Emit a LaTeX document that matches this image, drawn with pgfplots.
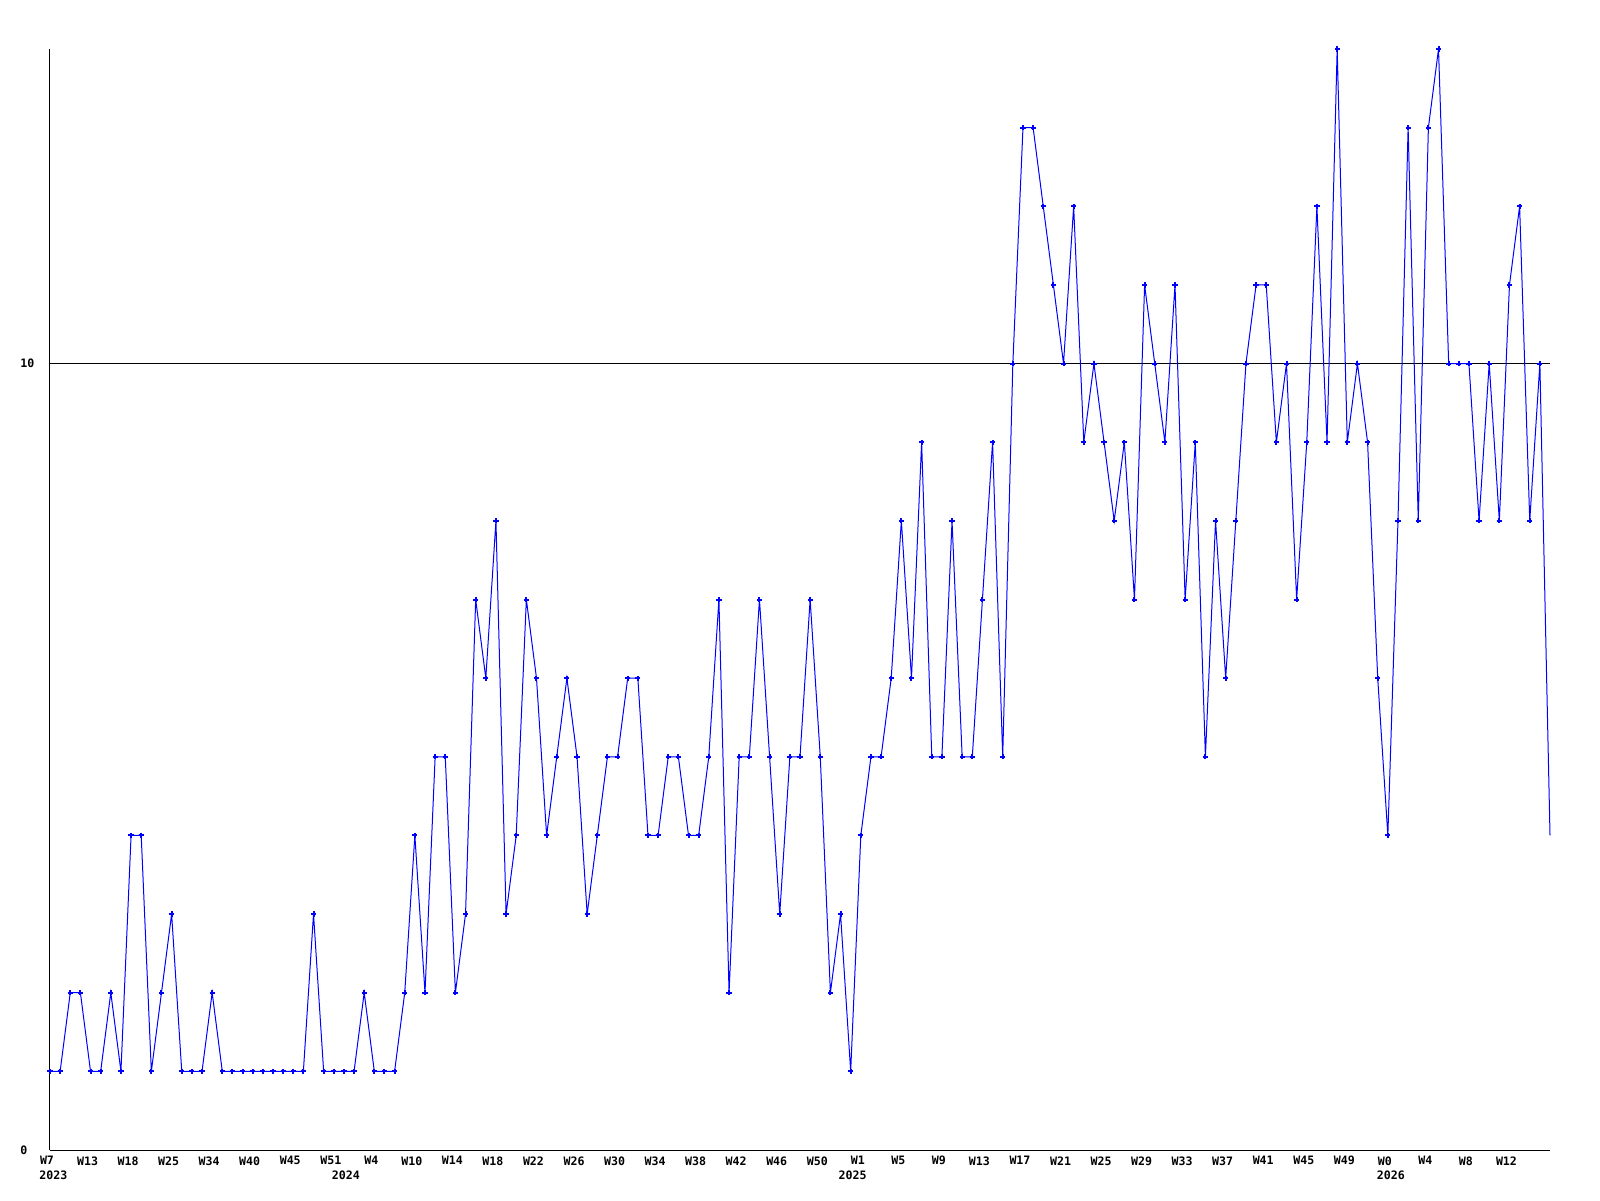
\documentclass[border=0pt]{standalone}
\usepackage{pgfplots}
\pgfplotsset{compat=1.18}
\usepackage{fontspec}
\setmonofont{DejaVu Sans Mono}
\begin{document}
\begin{tikzpicture}
\path[use as bounding box] (-25pt,-25pt) rectangle (775pt,575pt);
\begin{axis}[
  at={(0,0)}, anchor=south west,
  scale only axis, width=750pt, height=550.5pt,
  xmin=0, xmax=148, ymin=0, ymax=14,
  axis x line*=bottom, axis y line*=left,
  axis line style={-, black, line width=0.5pt},
  ytick={0,10}, ymajorgrids, grid style={black, line width=0.5pt},
  xtick={0,4,...,144},
  xticklabels={W7,W13,W18,W25,W34,W40,W45,W51,W4,W10,W14,W18,W22,W26,W30,W34,W38,W42,W46,W50,W1,W5,W9,W13,W17,W21,W25,W29,W33,W37,W41,W45,W49,W0,W4,W8,W12},
  major tick length=0,
  tick label style={font=\fontsize{5.8}{7}\ttfamily\bfseries, inner sep=0pt},
  /pgf/number format/assume math mode=true,
  xticklabel style={anchor=north, yshift=-3pt, xshift=-1.5pt},
  yticklabel style={anchor=west, xshift=-15pt},
  extra x ticks={0.33,29.2,79.2,132.3},
  extra x tick labels={2023,2024,2025,2026},
  extra x tick style={xticklabel style={yshift=-7pt, xshift=1.5pt}, grid=none},
  clip=false,
]
\addplot[color={rgb,255:red,0;green,0;blue,255}, line width=0.5pt, mark=+, mark size=1.3pt, mark options={line width=1pt}, mark indices={1,...,148}] coordinates {
(0,1)(1,1)(2,2)(3,2)(4,1)(5,1)(6,2)(7,1)(8,4)(9,4)
(10,1)(11,2)(12,3)(13,1)(14,1)(15,1)(16,2)(17,1)(18,1)(19,1)
(20,1)(21,1)(22,1)(23,1)(24,1)(25,1)(26,3)(27,1)(28,1)(29,1)
(30,1)(31,2)(32,1)(33,1)(34,1)(35,2)(36,4)(37,2)(38,5)(39,5)
(40,2)(41,3)(42,7)(43,6)(44,8)(45,3)(46,4)(47,7)(48,6)(49,4)
(50,5)(51,6)(52,5)(53,3)(54,4)(55,5)(56,5)(57,6)(58,6)(59,4)
(60,4)(61,5)(62,5)(63,4)(64,4)(65,5)(66,7)(67,2)(68,5)(69,5)
(70,7)(71,5)(72,3)(73,5)(74,5)(75,7)(76,5)(77,2)(78,3)(79,1)
(80,4)(81,5)(82,5)(83,6)(84,8)(85,6)(86,9)(87,5)(88,5)(89,8)
(90,5)(91,5)(92,7)(93,9)(94,5)(95,10)(96,13)(97,13)(98,12)(99,11)
(100,10)(101,12)(102,9)(103,10)(104,9)(105,8)(106,9)(107,7)(108,11)(109,10)
(110,9)(111,11)(112,7)(113,9)(114,5)(115,8)(116,6)(117,8)(118,10)(119,11)
(120,11)(121,9)(122,10)(123,7)(124,9)(125,12)(126,9)(127,14)(128,9)(129,10)
(130,9)(131,6)(132,4)(133,8)(134,13)(135,8)(136,13)(137,14)(138,10)(139,10)
(140,10)(141,8)(142,10)(143,8)(144,11)(145,12)(146,8)(147,10)(148,4)
};
\end{axis}
\end{tikzpicture}
\end{document}
